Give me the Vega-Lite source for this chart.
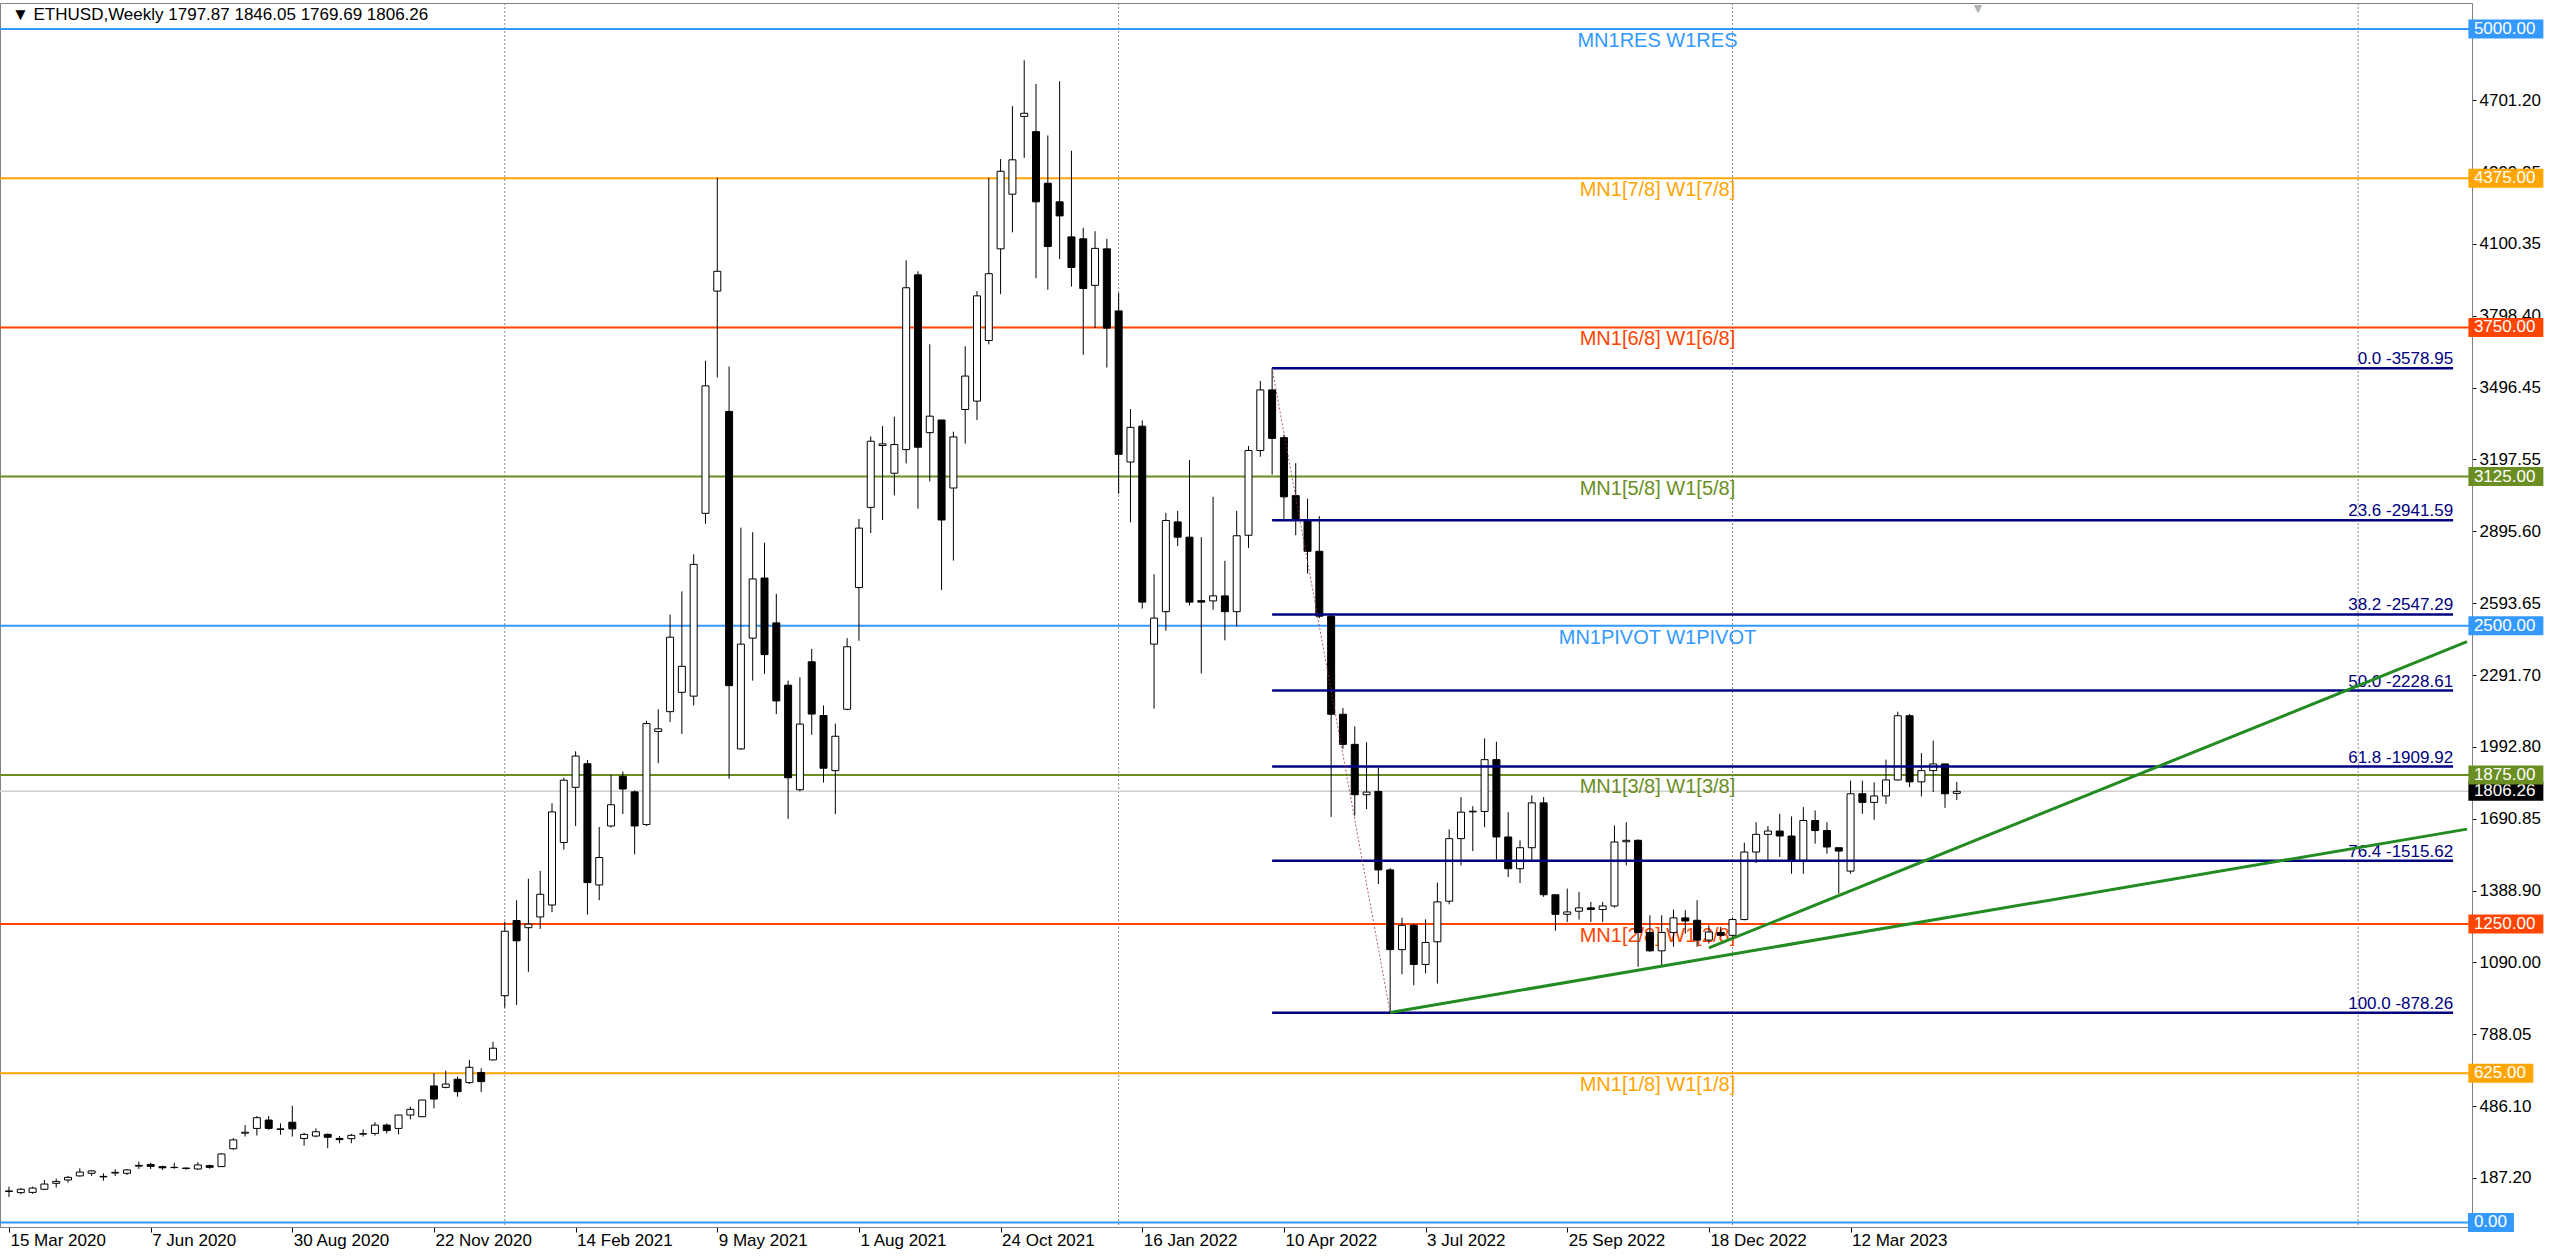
{
  "$schema": "https://vega.github.io/schema/vega-lite/v6.json",
  "width": 2472,
  "height": 1224,
  "autosize": {"type": "none"},
  "padding": {"left": 0, "top": 3, "right": 88, "bottom": 29},
  "background": "#ffffff",
  "config": {"view": {"stroke": "#808080", "strokeWidth": 1}, "font": "Liberation Sans"},
  "resolve": {"axis": {"x": "independent", "y": "independent"}},
  "datasets": {
    "candles": [
      {"d":"2020-03-15","o":132,"h":150,"l":107,"c":130},
      {"d":"2020-03-22","o":125,"h":144,"l":118,"c":139},
      {"d":"2020-03-29","o":126,"h":150,"l":120,"c":144},
      {"d":"2020-04-05","o":139,"h":178,"l":136,"c":161},
      {"d":"2020-04-12","o":164,"h":184,"l":146,"c":172},
      {"d":"2020-04-19","o":178,"h":195,"l":167,"c":189},
      {"d":"2020-04-26","o":195,"h":227,"l":192,"c":211},
      {"d":"2020-05-03","o":206,"h":219,"l":195,"c":216},
      {"d":"2020-05-10","o":193,"h":206,"l":175,"c":191},
      {"d":"2020-05-17","o":207,"h":223,"l":195,"c":210},
      {"d":"2020-05-24","o":206,"h":224,"l":199,"c":220},
      {"d":"2020-05-31","o":236,"h":255,"l":224,"c":239},
      {"d":"2020-06-07","o":243,"h":250,"l":224,"c":235},
      {"d":"2020-06-14","o":234,"h":238,"l":220,"c":229},
      {"d":"2020-06-21","o":230,"h":250,"l":225,"c":231},
      {"d":"2020-06-28","o":228,"h":231,"l":221,"c":226},
      {"d":"2020-07-05","o":224,"h":253,"l":220,"c":241},
      {"d":"2020-07-12","o":238,"h":242,"l":225,"c":231},
      {"d":"2020-07-19","o":234,"h":290,"l":233,"c":287},
      {"d":"2020-07-26","o":309,"h":353,"l":304,"c":346},
      {"d":"2020-08-02","o":374,"h":408,"l":360,"c":378},
      {"d":"2020-08-09","o":394,"h":446,"l":364,"c":439},
      {"d":"2020-08-16","o":429,"h":446,"l":388,"c":394},
      {"d":"2020-08-23","o":392,"h":415,"l":367,"c":390},
      {"d":"2020-08-30","o":420,"h":489,"l":360,"c":392},
      {"d":"2020-09-06","o":352,"h":376,"l":322,"c":369},
      {"d":"2020-09-13","o":362,"h":394,"l":357,"c":380},
      {"d":"2020-09-20","o":369,"h":373,"l":311,"c":357},
      {"d":"2020-09-27","o":352,"h":362,"l":332,"c":347},
      {"d":"2020-10-04","o":351,"h":371,"l":332,"c":365},
      {"d":"2020-10-11","o":370,"h":390,"l":360,"c":372},
      {"d":"2020-10-18","o":373,"h":420,"l":364,"c":408},
      {"d":"2020-10-25","o":408,"h":415,"l":373,"c":385},
      {"d":"2020-11-01","o":394,"h":451,"l":369,"c":450},
      {"d":"2020-11-08","o":450,"h":485,"l":432,"c":474},
      {"d":"2020-11-15","o":443,"h":514,"l":441,"c":513},
      {"d":"2020-11-22","o":572,"h":625,"l":478,"c":517},
      {"d":"2020-11-29","o":566,"h":636,"l":562,"c":580},
      {"d":"2020-12-06","o":600,"h":611,"l":527,"c":548},
      {"d":"2020-12-13","o":586,"h":681,"l":580,"c":650},
      {"d":"2020-12-20","o":628,"h":646,"l":547,"c":590},
      {"d":"2020-12-27","o":681,"h":757,"l":680,"c":730},
      {"d":"2021-01-03","o":950,"h":1260,"l":900,"c":1220},
      {"d":"2021-01-10","o":1265,"h":1350,"l":911,"c":1180},
      {"d":"2021-01-17","o":1235,"h":1440,"l":1050,"c":1250},
      {"d":"2021-01-24","o":1280,"h":1473,"l":1230,"c":1375},
      {"d":"2021-01-31","o":1330,"h":1756,"l":1300,"c":1720},
      {"d":"2021-02-07","o":1592,"h":1863,"l":1562,"c":1853},
      {"d":"2021-02-14","o":1823,"h":1974,"l":1661,"c":1954},
      {"d":"2021-02-21","o":1922,"h":1938,"l":1290,"c":1424},
      {"d":"2021-02-28","o":1414,"h":1657,"l":1350,"c":1529},
      {"d":"2021-03-07","o":1661,"h":1875,"l":1655,"c":1750},
      {"d":"2021-03-14","o":1869,"h":1889,"l":1711,"c":1816},
      {"d":"2021-03-21","o":1804,"h":1810,"l":1542,"c":1661},
      {"d":"2021-03-28","o":1667,"h":2102,"l":1661,"c":2090},
      {"d":"2021-04-04","o":2057,"h":2150,"l":1924,"c":2068},
      {"d":"2021-04-11","o":2140,"h":2547,"l":2096,"c":2452},
      {"d":"2021-04-18","o":2221,"h":2644,"l":2047,"c":2330},
      {"d":"2021-04-25","o":2205,"h":2799,"l":2166,"c":2757},
      {"d":"2021-05-02","o":2971,"h":3610,"l":2927,"c":3505},
      {"d":"2021-05-09","o":3902,"h":4377,"l":3540,"c":3985},
      {"d":"2021-05-16","o":3398,"h":3586,"l":1859,"c":2249},
      {"d":"2021-05-23","o":1984,"h":2911,"l":1980,"c":2423},
      {"d":"2021-05-30","o":2448,"h":2892,"l":2270,"c":2696},
      {"d":"2021-06-06","o":2700,"h":2848,"l":2298,"c":2379},
      {"d":"2021-06-13","o":2512,"h":2634,"l":2130,"c":2185},
      {"d":"2021-06-20","o":2251,"h":2270,"l":1691,"c":1863},
      {"d":"2021-06-27","o":1813,"h":2284,"l":1806,"c":2088},
      {"d":"2021-07-04","o":2349,"h":2403,"l":2043,"c":2130},
      {"d":"2021-07-11","o":2124,"h":2166,"l":1843,"c":1903},
      {"d":"2021-07-18","o":1893,"h":2090,"l":1711,"c":2037},
      {"d":"2021-07-25","o":2150,"h":2448,"l":2146,"c":2412},
      {"d":"2021-08-01","o":2660,"h":2947,"l":2437,"c":2909},
      {"d":"2021-08-08","o":2996,"h":3293,"l":2888,"c":3273},
      {"d":"2021-08-15","o":3255,"h":3337,"l":2943,"c":3262},
      {"d":"2021-08-22","o":3139,"h":3376,"l":3046,"c":3259},
      {"d":"2021-08-29","o":3238,"h":4031,"l":3180,"c":3916},
      {"d":"2021-09-05","o":3970,"h":3985,"l":2990,"c":3248},
      {"d":"2021-09-12","o":3309,"h":3679,"l":3105,"c":3378},
      {"d":"2021-09-19","o":3362,"h":3362,"l":2650,"c":2943},
      {"d":"2021-09-26","o":3077,"h":3313,"l":2773,"c":3291},
      {"d":"2021-10-03","o":3406,"h":3671,"l":3263,"c":3546},
      {"d":"2021-10-10","o":3441,"h":3902,"l":3362,"c":3882},
      {"d":"2021-10-17","o":3695,"h":4377,"l":3679,"c":3975},
      {"d":"2021-10-24","o":4079,"h":4455,"l":3889,"c":4404},
      {"d":"2021-10-31","o":4308,"h":4677,"l":4148,"c":4452},
      {"d":"2021-11-07","o":4634,"h":4869,"l":4460,"c":4647},
      {"d":"2021-11-14","o":4570,"h":4770,"l":3956,"c":4276},
      {"d":"2021-11-21","o":4354,"h":4554,"l":3908,"c":4089},
      {"d":"2021-11-28","o":4276,"h":4781,"l":4036,"c":4217},
      {"d":"2021-12-05","o":4129,"h":4490,"l":3921,"c":4001},
      {"d":"2021-12-12","o":4121,"h":4167,"l":3635,"c":3913},
      {"d":"2021-12-19","o":3926,"h":4153,"l":3747,"c":4081},
      {"d":"2021-12-26","o":4079,"h":4121,"l":3582,"c":3747},
      {"d":"2022-01-02","o":3819,"h":3894,"l":3053,"c":3218},
      {"d":"2022-01-09","o":3186,"h":3408,"l":2933,"c":3331},
      {"d":"2022-01-16","o":3336,"h":3360,"l":2572,"c":2599},
      {"d":"2022-01-23","o":2423,"h":2716,"l":2153,"c":2532},
      {"d":"2022-01-30","o":2559,"h":2973,"l":2479,"c":2941},
      {"d":"2022-02-06","o":2935,"h":2981,"l":2834,"c":2871},
      {"d":"2022-02-13","o":2871,"h":3194,"l":2585,"c":2599},
      {"d":"2022-02-20","o":2605,"h":2871,"l":2300,"c":2599},
      {"d":"2022-02-27","o":2604,"h":3040,"l":2567,"c":2625},
      {"d":"2022-03-06","o":2625,"h":2772,"l":2439,"c":2559},
      {"d":"2022-03-13","o":2559,"h":2981,"l":2497,"c":2877},
      {"d":"2022-03-20","o":2879,"h":3253,"l":2826,"c":3234},
      {"d":"2022-03-27","o":3234,"h":3526,"l":3208,"c":3488},
      {"d":"2022-04-03","o":3488,"h":3579,"l":3133,"c":3285},
      {"d":"2022-04-10","o":3288,"h":3300,"l":2946,"c":3040},
      {"d":"2022-04-17","o":3045,"h":3181,"l":2879,"c":2946},
      {"d":"2022-04-24","o":2941,"h":3032,"l":2719,"c":2812},
      {"d":"2022-05-01","o":2812,"h":2959,"l":2532,"c":2540},
      {"d":"2022-05-08","o":2540,"h":2545,"l":1699,"c":2129},
      {"d":"2022-05-15","o":2129,"h":2155,"l":1985,"c":2003},
      {"d":"2022-05-22","o":2003,"h":2078,"l":1704,"c":1792},
      {"d":"2022-05-29","o":1792,"h":2012,"l":1732,"c":1803},
      {"d":"2022-06-05","o":1806,"h":1904,"l":1418,"c":1477},
      {"d":"2022-06-12","o":1477,"h":1484,"l":880,"c":1143},
      {"d":"2022-06-19","o":1143,"h":1277,"l":1040,"c":1245},
      {"d":"2022-06-26","o":1245,"h":1250,"l":994,"c":1081},
      {"d":"2022-07-03","o":1081,"h":1270,"l":1043,"c":1173},
      {"d":"2022-07-10","o":1176,"h":1424,"l":1001,"c":1343},
      {"d":"2022-07-17","o":1346,"h":1647,"l":1333,"c":1608},
      {"d":"2022-07-24","o":1608,"h":1782,"l":1496,"c":1719},
      {"d":"2022-07-31","o":1720,"h":1744,"l":1556,"c":1723},
      {"d":"2022-08-07","o":1722,"h":2028,"l":1656,"c":1939},
      {"d":"2022-08-14","o":1939,"h":2014,"l":1520,"c":1615},
      {"d":"2022-08-21","o":1615,"h":1719,"l":1447,"c":1482},
      {"d":"2022-08-28","o":1482,"h":1601,"l":1422,"c":1570},
      {"d":"2022-09-04","o":1570,"h":1789,"l":1510,"c":1758},
      {"d":"2022-09-11","o":1758,"h":1782,"l":1364,"c":1373},
      {"d":"2022-09-18","o":1373,"h":1374,"l":1222,"c":1291},
      {"d":"2022-09-25","o":1291,"h":1399,"l":1259,"c":1301},
      {"d":"2022-10-02","o":1304,"h":1385,"l":1269,"c":1318},
      {"d":"2022-10-09","o":1318,"h":1343,"l":1259,"c":1311},
      {"d":"2022-10-16","o":1311,"h":1343,"l":1259,"c":1326},
      {"d":"2022-10-23","o":1326,"h":1663,"l":1319,"c":1594},
      {"d":"2022-10-30","o":1595,"h":1677,"l":1496,"c":1601},
      {"d":"2022-11-06","o":1601,"h":1605,"l":1071,"c":1215},
      {"d":"2022-11-13","o":1215,"h":1287,"l":1134,"c":1138},
      {"d":"2022-11-20","o":1138,"h":1287,"l":1071,"c":1215},
      {"d":"2022-11-27","o":1215,"h":1311,"l":1155,"c":1276},
      {"d":"2022-12-04","o":1276,"h":1308,"l":1210,"c":1263},
      {"d":"2022-12-11","o":1266,"h":1350,"l":1155,"c":1183},
      {"d":"2022-12-18","o":1183,"h":1245,"l":1169,"c":1217},
      {"d":"2022-12-25","o":1215,"h":1238,"l":1197,"c":1203},
      {"d":"2023-01-01","o":1203,"h":1277,"l":1197,"c":1269},
      {"d":"2023-01-08","o":1269,"h":1591,"l":1266,"c":1552},
      {"d":"2023-01-15","o":1552,"h":1677,"l":1506,"c":1626},
      {"d":"2023-01-22","o":1626,"h":1661,"l":1517,"c":1640},
      {"d":"2023-01-29","o":1640,"h":1712,"l":1531,"c":1619},
      {"d":"2023-02-05","o":1619,"h":1701,"l":1461,"c":1517},
      {"d":"2023-02-12","o":1517,"h":1740,"l":1461,"c":1684},
      {"d":"2023-02-19","o":1684,"h":1726,"l":1587,"c":1642},
      {"d":"2023-02-26","o":1642,"h":1677,"l":1545,"c":1573},
      {"d":"2023-03-05","o":1570,"h":1570,"l":1378,"c":1556},
      {"d":"2023-03-12","o":1472,"h":1851,"l":1461,"c":1796},
      {"d":"2023-03-19","o":1796,"h":1851,"l":1712,"c":1760},
      {"d":"2023-03-26","o":1760,"h":1844,"l":1687,"c":1787},
      {"d":"2023-04-02","o":1787,"h":1939,"l":1754,"c":1854},
      {"d":"2023-04-09","o":1854,"h":2140,"l":1851,"c":2123},
      {"d":"2023-04-16","o":2123,"h":2130,"l":1824,"c":1846},
      {"d":"2023-04-23","o":1846,"h":1966,"l":1785,"c":1893},
      {"d":"2023-04-30","o":1893,"h":2019,"l":1803,"c":1921},
      {"d":"2023-05-07","o":1921,"h":1921,"l":1737,"c":1796},
      {"d":"2023-05-14","o":1797.87,"h":1846.05,"l":1769.69,"c":1806.26}
    ],
    "levels": [
      {"v":5000,"oct":"8/8","name":"MN1RES W1RES"},
      {"v":4375,"oct":"7/8","name":"MN1[7/8] W1[7/8]"},
      {"v":3750,"oct":"6/8","name":"MN1[6/8] W1[6/8]"},
      {"v":3125,"oct":"5/8","name":"MN1[5/8] W1[5/8]"},
      {"v":2500,"oct":"4/8","name":"MN1PIVOT W1PIVOT"},
      {"v":1875,"oct":"3/8","name":"MN1[3/8] W1[3/8]"},
      {"v":1250,"oct":"2/8","name":"MN1[2/8] W1[2/8]"},
      {"v":625,"oct":"1/8","name":"MN1[1/8] W1[1/8]"},
      {"v":0,"oct":"0/8","name":"MN1[0/8] W1[0/8]"}
    ],
    "fibs": [
      {"v":3578.95,"label":"0.0 -3578.95"},
      {"v":2941.59,"label":"23.6 -2941.59"},
      {"v":2547.29,"label":"38.2 -2547.29"},
      {"v":2228.61,"label":"50.0 -2228.61"},
      {"v":1909.92,"label":"61.8 -1909.92"},
      {"v":1515.62,"label":"76.4 -1515.62"},
      {"v":878.26,"label":"100.0 -878.26"}
    ],
    "trends": [
      {"d1":"2022-06-12","p1":880,"d2":"2024-03-11T12:43:00Z","p2":1648},
      {"d1":"2022-12-18","p1":1150,"d2":"2024-03-11T12:43:00Z","p2":2433}
    ],
    "zigzag": [
      {"d1":"2022-04-03","p1":3578.95,"d2":"2022-06-12","p2":878.26}
    ],
    "seps": [
      {"d":"2021-01-03"},{"d":"2022-01-02"},{"d":"2023-01-01"},{"d":"2024-01-07"}
    ],
    "last": [{"p":1806.26}]
  },
  "layer": [
    {
      "data": {"name": "seps"},
      "mark": {"type": "rule", "color": "#8a8a8a", "strokeDash": [2, 2], "strokeWidth": 1},
      "encoding": {
        "x": {"field": "d", "type": "temporal",
          "scale": {"type": "utc", "domain": [{"year":2020,"month":3,"date":12,"hours":15,"minutes":18,"utc":true},{"year":2024,"month":3,"date":11,"hours":12,"minutes":43,"utc":true}]},
          "axis": {"orient": "bottom", "title": null,
            "labelExpr": "utcFormat(datum.value, '%-d %b %Y')",
            "values": [
              {"year":2020,"month":3,"date":15,"utc":true},{"year":2020,"month":6,"date":7,"utc":true},{"year":2020,"month":8,"date":30,"utc":true},
              {"year":2020,"month":11,"date":22,"utc":true},{"year":2021,"month":2,"date":14,"utc":true},{"year":2021,"month":5,"date":9,"utc":true},
              {"year":2021,"month":8,"date":1,"utc":true},{"year":2021,"month":10,"date":24,"utc":true},{"year":2022,"month":1,"date":16,"utc":true},
              {"year":2022,"month":4,"date":10,"utc":true},{"year":2022,"month":7,"date":3,"utc":true},{"year":2022,"month":9,"date":25,"utc":true},
              {"year":2022,"month":12,"date":18,"utc":true},{"year":2023,"month":3,"date":12,"utc":true}],
            "labelAlign": "left", "labelBaseline": "top", "labelFontSize": 17, "labelFont": "Liberation Sans", "labelColor": "#000000",
            "labelPadding": 0, "labelOffset": 1, "tickSize": 5, "tickColor": "#000000", "domainColor": "#808080", "grid": false,
            "labelFlush": false, "labelOverlap": false, "labelBound": false}}
      }
    },
    {
      "data": {"name": "last"},
      "mark": {"type": "rule", "color": "#cfcfcf", "strokeWidth": 1.5},
      "encoding": {
        "y": {"field": "p", "type": "quantitative", "scale": {"domain": [-19, 5109], "nice": false, "zero": false},
          "axis": {"orient": "right", "title": null, "format": ".2f",
            "values": [5003.15,4701.2,4399.25,4100.35,3798.4,3496.45,3197.55,2895.6,2593.65,2291.7,1992.8,1690.85,1388.9,1090,788.05,486.1,187.2],
            "labelFontSize": 17, "labelFont": "Liberation Sans", "labelColor": "#000000", "labelPadding": 3, "tickSize": 4,
            "tickColor": "#000000", "domainColor": "#808080", "grid": false, "labelFlush": false, "labelOverlap": false}}
      }
    },
    {
      "data": {"name": "levels"},
      "mark": {"type": "rule", "strokeWidth": 2},
      "encoding": {
        "y": {"field": "v", "type": "quantitative", "axis": null, "scale": {"domain": [-19, 5109], "nice": false, "zero": false}},
        "color": {"field": "oct", "type": "nominal", "legend": null,
          "scale": {"domain": ["8/8","7/8","6/8","5/8","4/8","3/8","2/8","1/8","0/8"], "range": ["#3399ff","#ffa500","#ff4500","#6b8e23","#3399ff","#6b8e23","#ff4500","#ffa500","#3399ff"]}}
      }
    },
    {
      "data": {"name": "levels"},
      "transform": [{"filter": "datum.v > 0"}],
      "mark": {"type": "text", "fontSize": 20, "font": "Liberation Sans", "baseline": "top", "align": "center", "dy": 2},
      "encoding": {
        "x": {"datum": {"year":2022,"month":11,"date":17,"hours":12,"utc":true}, "type": "temporal", "axis": null,
          "scale": {"type": "utc", "domain": [{"year":2020,"month":3,"date":12,"hours":15,"minutes":18,"utc":true},{"year":2024,"month":3,"date":11,"hours":12,"minutes":43,"utc":true}]}},
        "y": {"field": "v", "type": "quantitative", "axis": null, "scale": {"domain": [-19, 5109], "nice": false, "zero": false}},
        "text": {"field": "name"},
        "color": {"field": "oct", "type": "nominal", "legend": null,
          "scale": {"domain": ["8/8","7/8","6/8","5/8","4/8","3/8","2/8","1/8","0/8"], "range": ["#3399ff","#ffa500","#ff4500","#6b8e23","#3399ff","#6b8e23","#ff4500","#ffa500","#3399ff"]}}
      }
    },
    {
      "data": {"name": "candles"},
      "mark": {"type": "rule", "color": "#000000", "strokeWidth": 1},
      "encoding": {
        "x": {"field": "d", "type": "temporal", "axis": null,
          "scale": {"type": "utc", "domain": [{"year":2020,"month":3,"date":12,"hours":15,"minutes":18,"utc":true},{"year":2024,"month":3,"date":11,"hours":12,"minutes":43,"utc":true}]}},
        "y": {"field": "l", "type": "quantitative", "axis": null, "scale": {"domain": [-19, 5109], "nice": false, "zero": false}},
        "y2": {"field": "h"}
      }
    },
    {
      "data": {"name": "candles"},
      "mark": {"type": "bar", "size": 7, "stroke": "#000000", "strokeWidth": 1},
      "encoding": {
        "x": {"field": "d", "type": "temporal", "axis": null,
          "scale": {"type": "utc", "domain": [{"year":2020,"month":3,"date":12,"hours":15,"minutes":18,"utc":true},{"year":2024,"month":3,"date":11,"hours":12,"minutes":43,"utc":true}]}},
        "y": {"field": "o", "type": "quantitative", "axis": null, "scale": {"domain": [-19, 5109], "nice": false, "zero": false}},
        "y2": {"field": "c"},
        "fill": {"condition": {"test": "datum.o > datum.c", "value": "#000000"}, "value": "#ffffff"}
      }
    },
    {
      "data": {"name": "fibs"},
      "mark": {"type": "rule", "color": "#000080", "strokeWidth": 2.5},
      "encoding": {
        "x": {"datum": {"year":2022,"month":4,"date":3,"utc":true}, "type": "temporal", "axis": null,
          "scale": {"type": "utc", "domain": [{"year":2020,"month":3,"date":12,"hours":15,"minutes":18,"utc":true},{"year":2024,"month":3,"date":11,"hours":12,"minutes":43,"utc":true}]}},
        "x2": {"datum": {"year":2024,"month":3,"date":3,"hours":7,"utc":true}},
        "y": {"field": "v", "type": "quantitative", "axis": null, "scale": {"domain": [-19, 5109], "nice": false, "zero": false}}
      }
    },
    {
      "data": {"name": "fibs"},
      "mark": {"type": "text", "color": "#000080", "fontSize": 17, "font": "Liberation Sans", "align": "right", "baseline": "alphabetic", "dy": -4},
      "encoding": {
        "x": {"datum": {"year":2024,"month":3,"date":3,"hours":7,"utc":true}, "type": "temporal", "axis": null,
          "scale": {"type": "utc", "domain": [{"year":2020,"month":3,"date":12,"hours":15,"minutes":18,"utc":true},{"year":2024,"month":3,"date":11,"hours":12,"minutes":43,"utc":true}]}},
        "y": {"field": "v", "type": "quantitative", "axis": null, "scale": {"domain": [-19, 5109], "nice": false, "zero": false}},
        "text": {"field": "label"}
      }
    },
    {
      "data": {"name": "zigzag"},
      "mark": {"type": "rule", "color": "#a0304a", "strokeWidth": 1, "strokeDash": [2, 2], "opacity": 0.8},
      "encoding": {
        "x": {"field": "d1", "type": "temporal", "axis": null,
          "scale": {"type": "utc", "domain": [{"year":2020,"month":3,"date":12,"hours":15,"minutes":18,"utc":true},{"year":2024,"month":3,"date":11,"hours":12,"minutes":43,"utc":true}]}},
        "x2": {"field": "d2"},
        "y": {"field": "p1", "type": "quantitative", "axis": null, "scale": {"domain": [-19, 5109], "nice": false, "zero": false}},
        "y2": {"field": "p2"}
      }
    },
    {
      "data": {"name": "trends"},
      "mark": {"type": "rule", "color": "#228b22", "strokeWidth": 3, "clip": true},
      "encoding": {
        "x": {"field": "d1", "type": "temporal", "axis": null,
          "scale": {"type": "utc", "domain": [{"year":2020,"month":3,"date":12,"hours":15,"minutes":18,"utc":true},{"year":2024,"month":3,"date":11,"hours":12,"minutes":43,"utc":true}]}},
        "x2": {"field": "d2"},
        "y": {"field": "p1", "type": "quantitative", "axis": null, "scale": {"domain": [-19, 5109], "nice": false, "zero": false}},
        "y2": {"field": "p2"}
      }
    },
    {
      "data": {"values": [{}]},
      "mark": {"type": "text", "text": "▼  ETHUSD,Weekly  1797.87 1846.05 1769.69 1806.26", "fontSize": 17, "font": "Liberation Sans", "color": "#000000", "align": "left", "baseline": "middle"},
      "encoding": {
        "x": {"datum": {"year":2020,"month":3,"date":16,"hours":18,"minutes":30,"utc":true}, "type": "temporal", "axis": null,
          "scale": {"type": "utc", "domain": [{"year":2020,"month":3,"date":12,"hours":15,"minutes":18,"utc":true},{"year":2024,"month":3,"date":11,"hours":12,"minutes":43,"utc":true}]}},
        "y": {"datum": 5059, "type": "quantitative", "axis": null, "scale": {"domain": [-19, 5109], "nice": false, "zero": false}}
      }
    },
    {
      "data": {"values": [{}]},
      "mark": {"type": "text", "text": "▼", "fontSize": 14, "color": "#b0b0b0", "align": "center", "baseline": "middle"},
      "encoding": {
        "x": {"datum": {"year":2023,"month":5,"date":26,"hours":14,"utc":true}, "type": "temporal", "axis": null,
          "scale": {"type": "utc", "domain": [{"year":2020,"month":3,"date":12,"hours":15,"minutes":18,"utc":true},{"year":2024,"month":3,"date":11,"hours":12,"minutes":43,"utc":true}]}},
        "y": {"datum": 5085, "type": "quantitative", "axis": null, "scale": {"domain": [-19, 5109], "nice": false, "zero": false}}
      }
    },
    {
      "data": {"name": "last"},
      "mark": {"type": "tick", "orient": "horizontal", "size": 75, "thickness": 19, "color": "#000000", "opacity": 1, "clip": false},
      "encoding": {
        "x": {"datum": {"year":2024,"month":4,"date":3,"hours":14,"utc":true}, "type": "temporal", "axis": null,
          "scale": {"type": "utc", "domain": [{"year":2020,"month":3,"date":12,"hours":15,"minutes":18,"utc":true},{"year":2024,"month":3,"date":11,"hours":12,"minutes":43,"utc":true}]}},
        "y": {"field": "p", "type": "quantitative", "axis": null, "scale": {"domain": [-19, 5109], "nice": false, "zero": false}}
      }
    },
    {
      "data": {"name": "last"},
      "mark": {"type": "text", "fontSize": 17, "font": "Liberation Sans", "color": "#ffffff", "align": "left", "baseline": "middle", "clip": false},
      "encoding": {
        "x": {"datum": {"year":2024,"month":3,"date":15,"hours":15,"utc":true}, "type": "temporal", "axis": null,
          "scale": {"type": "utc", "domain": [{"year":2020,"month":3,"date":12,"hours":15,"minutes":18,"utc":true},{"year":2024,"month":3,"date":11,"hours":12,"minutes":43,"utc":true}]}},
        "y": {"field": "p", "type": "quantitative", "axis": null, "scale": {"domain": [-19, 5109], "nice": false, "zero": false}},
        "text": {"field": "p", "format": ".2f"}
      }
    },
    {
      "data": {"name": "levels"},
      "transform": [{"filter": "datum.v >= 1000"}],
      "mark": {"type": "tick", "orient": "horizontal", "size": 75, "thickness": 19, "opacity": 1, "clip": false},
      "encoding": {
        "x": {"datum": {"year":2024,"month":4,"date":3,"hours":14,"utc":true}, "type": "temporal", "axis": null,
          "scale": {"type": "utc", "domain": [{"year":2020,"month":3,"date":12,"hours":15,"minutes":18,"utc":true},{"year":2024,"month":3,"date":11,"hours":12,"minutes":43,"utc":true}]}},
        "y": {"field": "v", "type": "quantitative", "axis": null, "scale": {"domain": [-19, 5109], "nice": false, "zero": false}},
        "color": {"field": "oct", "type": "nominal", "legend": null,
          "scale": {"domain": ["8/8","7/8","6/8","5/8","4/8","3/8","2/8","1/8","0/8"], "range": ["#3399ff","#ffa500","#ff4500","#6b8e23","#3399ff","#6b8e23","#ff4500","#ffa500","#3399ff"]}}
      }
    },
    {
      "data": {"name": "levels"},
      "transform": [{"filter": "datum.v > 100 && datum.v < 1000"}],
      "mark": {"type": "tick", "orient": "horizontal", "size": 65, "thickness": 19, "opacity": 1, "clip": false},
      "encoding": {
        "x": {"datum": {"year":2024,"month":3,"date":31,"hours":14,"utc":true}, "type": "temporal", "axis": null,
          "scale": {"type": "utc", "domain": [{"year":2020,"month":3,"date":12,"hours":15,"minutes":18,"utc":true},{"year":2024,"month":3,"date":11,"hours":12,"minutes":43,"utc":true}]}},
        "y": {"field": "v", "type": "quantitative", "axis": null, "scale": {"domain": [-19, 5109], "nice": false, "zero": false}},
        "color": {"field": "oct", "type": "nominal", "legend": null,
          "scale": {"domain": ["8/8","7/8","6/8","5/8","4/8","3/8","2/8","1/8","0/8"], "range": ["#3399ff","#ffa500","#ff4500","#6b8e23","#3399ff","#6b8e23","#ff4500","#ffa500","#3399ff"]}}
      }
    },
    {
      "data": {"name": "levels"},
      "transform": [{"filter": "datum.v == 0"}],
      "mark": {"type": "tick", "orient": "horizontal", "size": 46, "thickness": 19, "opacity": 1, "clip": false},
      "encoding": {
        "x": {"datum": {"year":2024,"month":3,"date":25,"hours":17,"utc":true}, "type": "temporal", "axis": null,
          "scale": {"type": "utc", "domain": [{"year":2020,"month":3,"date":12,"hours":15,"minutes":18,"utc":true},{"year":2024,"month":3,"date":11,"hours":12,"minutes":43,"utc":true}]}},
        "y": {"field": "v", "type": "quantitative", "axis": null, "scale": {"domain": [-19, 5109], "nice": false, "zero": false}},
        "color": {"field": "oct", "type": "nominal", "legend": null,
          "scale": {"domain": ["8/8","7/8","6/8","5/8","4/8","3/8","2/8","1/8","0/8"], "range": ["#3399ff","#ffa500","#ff4500","#6b8e23","#3399ff","#6b8e23","#ff4500","#ffa500","#3399ff"]}}
      }
    },
    {
      "data": {"name": "levels"},
      "mark": {"type": "text", "fontSize": 17, "font": "Liberation Sans", "color": "#ffffff", "align": "left", "baseline": "middle", "clip": false},
      "encoding": {
        "x": {"datum": {"year":2024,"month":3,"date":15,"hours":15,"utc":true}, "type": "temporal", "axis": null,
          "scale": {"type": "utc", "domain": [{"year":2020,"month":3,"date":12,"hours":15,"minutes":18,"utc":true},{"year":2024,"month":3,"date":11,"hours":12,"minutes":43,"utc":true}]}},
        "y": {"field": "v", "type": "quantitative", "axis": null, "scale": {"domain": [-19, 5109], "nice": false, "zero": false}},
        "text": {"field": "v", "format": ".2f"}
      }
    }
  ]
}
